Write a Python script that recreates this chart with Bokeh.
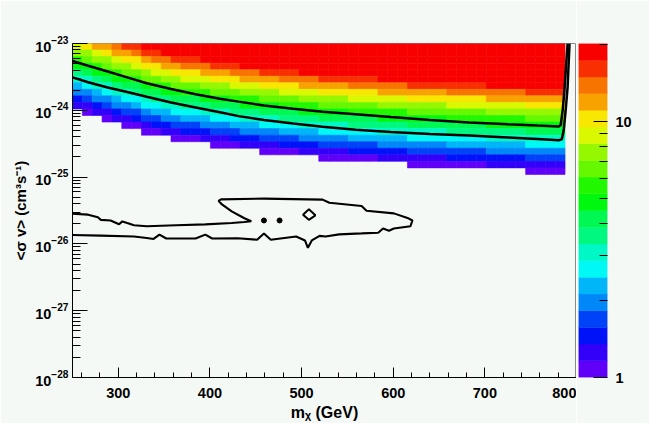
import numpy as np
from bokeh.plotting import figure
from bokeh.models import (FixedTicker, LogTickFormatter, PrintfTickFormatter,
                          LinearColorMapper, ColumnDataSource, Range1d)
from bokeh.layouts import row
from bokeh.embed import file_html
from bokeh.resources import INLINE
from bokeh.transform import transform

BG = "#f5f9f5"
PALETTE = ["#6000f8", "#3200f8", "#0013f8", "#0042f8", "#0087f8", "#00b6f8", "#00f8f5",
           "#00f8c6", "#00f881", "#00f853", "#00f80e", "#21f800", "#66f800", "#95f800",
           "#daf800", "#f8e700", "#f8a200", "#f87400", "#f82f00", "#f80000"]
Z_MIN, Z_MAX = 1.0, 20.2

# histogram binning: 50 mass bins, rows of 0.098 decade starting at 1e-23 (top)
MASS_EDGES = np.linspace(250.0, 787.5, 51)
LOG_SV_TOP_EDGES = np.linspace(-23.0, -23.0 - 0.098 * 20, 21)

# colour-level index of each cell (row 0 = top row), '.' = empty
CH = "0123456789abcdefghij"
GRID = [
    'efgghiijjjjjjjjjjjjjjjjjjjjjjjjjjjjjjjjjjjjjjjjjjj',
    'ddefgghiijjjjjjjjjjjjjjjjjjjjjjjjjjjjjjjjjjjjjjjjj',
    'bcddeffghhiiijjjjjjjjjjjjjjjjjjjjjjjjjjjjjjjjjjjjj',
    'aabcddeffgghhhiiijjjjjjjjjjjjjjjjjjjjjjjjjjjjjjjjj',
    '89aabccdeefffggghhhiiiijjjjjjjjjjjjjjjjjjjjjjjjjjj',
    '7789aabccddeeefffgggghhhhiiiiiijjjjjjjjjjjjjjjjjjj',
    '5677899abbcccdddeeeffffggggghhhhhhiiiiiiiijjjjjjjj',
    '445677899aabbbcccddddeeeeffffffggggggghhhhhhhhiiii',
    '2344566788999aaabbbccccdddddeeeeeeffffffffgggggggg',
    '11234456677888999aaaabbbbccccccdddddddeeeeeeeeffff',
    '.0112334556667778889999aaaaabbbbbbccccccccdddddddd',
    '...0112334455566677778888999999aaaaaaabbbbbbbbcccc',
    '.....0012233344455566667777788888899999999aaaaaaaa',
    '.......0011222333444455556666667777777888888889999',
    '..........0001112223333444445555556666666677777777',
    '..............000111122223333334444444555555556666',
    '...................0000111112222223333333344444444',
    '.........................0000001111111222222223333',
    '..................................0000000011111111',
    '..............................................0000',
]

UPPER_MASS = [250.0, 267.0, 288.4, 309.7, 331.0, 357.6, 384.3, 410.9, 431.2, 458.9, 490.8, 522.8,
              559.0, 597.4, 640.0, 682.6, 725.3, 757.2, 780.7, 782.8, 784.9, 787.1, 789.2, 790.3]
UPPER_LOG = [-23.261, -23.333, -23.420, -23.507, -23.594, -23.681, -23.761, -23.826, -23.870, -23.928,
             -23.978, -24.022, -24.058, -24.101, -24.145, -24.181, -24.210, -24.229, -24.242, -24.220,
             -24.000, -23.650, -23.220, -23.000]
LOWER_MASS = [250.0, 267.0, 288.4, 309.7, 331.0, 357.6, 384.3, 410.9, 431.2, 458.9, 490.8, 522.8,
              559.0, 597.4, 640.0, 682.6, 725.3, 757.2, 780.7, 783.9, 786.0, 788.1, 790.3, 792.4]
LOWER_LOG = [-23.507, -23.580, -23.659, -23.725, -23.797, -23.884, -23.957, -24.029, -24.087, -24.145,
             -24.196, -24.246, -24.290, -24.326, -24.355, -24.377, -24.406, -24.428, -24.449, -24.435,
             -24.304, -24.014, -23.652, -23.000]

CLOSED_MASS = [250.0, 267.05, 277.71, 280.91, 291.57, 300.84, 304.36, 309.69, 317.15, 331.01,
               362.98, 394.96, 423.74, 437.60, 445.06, 437.60, 423.74, 413.08, 409.35, 412.02,
               458.91, 522.87, 530.33, 565.50, 570.83, 600.68, 615.60, 620.93, 618.80, 600.68,
               595.35, 588.95, 583.62, 565.50, 540.99, 526.07, 519.67, 511.14, 506.88, 503.68,
               494.09, 466.38, 458.91, 451.45, 430.14, 402.42, 394.96, 384.30, 352.33, 344.86,
               338.47, 331.01, 317.15, 280.91, 250.0]
CLOSED_LOG = [-25.548, -25.562, -25.601, -25.640, -25.649, -25.707, -25.663, -25.688, -25.721, -25.736,
              -25.721, -25.707, -25.688, -25.673, -25.659, -25.616, -25.514, -25.409, -25.355, -25.334,
              -25.322, -25.337, -25.384, -25.432, -25.504, -25.543, -25.611, -25.649, -25.736, -25.770,
              -25.803, -25.770, -25.832, -25.843, -25.857, -25.890, -25.880, -25.948, -26.059, -25.948,
              -25.890, -25.938, -25.843, -25.938, -25.915, -25.919, -25.861, -25.919, -25.919, -25.861,
              -25.926, -25.912, -25.890, -25.876, -25.866]
DOT_MASS = [458.91, 475.97]
DOT_LOG = [-25.649, -25.649]
DIAMOND_MASS = [501.55, 507.95, 515.09, 507.95]
DIAMOND_LOG = [-25.562, -25.481, -25.572, -25.640]

X_TICKS = [300, 400, 500, 600, 700, 800]
X_MINOR = list(range(260, 800, 20))
Y_TICKS = [1e-28, 1e-27, 1e-26, 1e-25, 1e-24, 1e-23]
Y_MINOR = [m * 10.0 ** e for e in range(-28, -23) for m in range(2, 10)]
Z_TICKS = [1, 10]
Z_MINOR = [2, 3, 4, 5, 6, 7, 8, 9, 20]
X_TITLE = "m\u1d6a (GeV)"
Y_TITLE = "<\u03c3 v> (cm\u00b3s\u207b\u00b9)"

FONT = "Liberation Sans"

p = figure(width=576, height=423, x_range=Range1d(250, 800), y_range=Range1d(1e-28, 1e-23),
           y_axis_type="log", output_backend="svg", toolbar_location=None,
           min_border_left=72, min_border_right=0, min_border_top=43, min_border_bottom=46,
           background_fill_color=BG, border_fill_color=BG, outline_line_color="#888888")
p.grid.visible = False

left, right, bottom, top, band = [], [], [], [], []
for k, rs in enumerate(GRID):
    for c, ch in enumerate(rs):
        if ch == ".":
            continue
        left.append(MASS_EDGES[c]); right.append(MASS_EDGES[c + 1])
        top.append(10 ** LOG_SV_TOP_EDGES[k]); bottom.append(10 ** LOG_SV_TOP_EDGES[k + 1])
        band.append(CH.index(ch))
mapper = LinearColorMapper(palette=PALETTE, low=0, high=20)
src = ColumnDataSource(dict(left=left, right=right, top=top, bottom=bottom, band=band))
p.quad(left="left", right="right", top="top", bottom="bottom", source=src,
       fill_color=transform("band", mapper), line_color=transform("band", mapper), line_width=0.6)

p.line(UPPER_MASS, [10 ** v for v in UPPER_LOG], line_color="black", line_width=2.5)
p.line(LOWER_MASS, [10 ** v for v in LOWER_LOG], line_color="black", line_width=2.5)
p.line(CLOSED_MASS, [10 ** v for v in CLOSED_LOG], line_color="black", line_width=2.1)
p.patch(DIAMOND_MASS, [10 ** v for v in DIAMOND_LOG], fill_color=None, line_color="black", line_width=2)
p.scatter(DOT_MASS, [10 ** v for v in DOT_LOG], size=5, color="black")

for ax in (p.xaxis[0], p.yaxis[0]):
    ax.axis_line_color = "black"
    ax.major_tick_line_color = "black"
    ax.minor_tick_line_color = "black"
    ax.major_tick_out = 0
    ax.minor_tick_out = 0
    ax.major_label_text_font = FONT
    ax.major_label_text_font_style = "bold"
    ax.major_label_text_font_size = "14.5px"
    ax.major_label_text_color = "black"
    ax.axis_label_text_font = FONT
    ax.axis_label_text_font_style = "bold"
    ax.axis_label_text_color = "black"
p.xaxis.ticker = FixedTicker(ticks=X_TICKS, minor_ticks=X_MINOR)
p.xaxis.major_tick_in = 10
p.xaxis.minor_tick_in = 5
p.xaxis.major_label_standoff = 10
p.xaxis.axis_label = X_TITLE
p.xaxis.axis_label_text_font_size = "16px"
p.xaxis.axis_label_standoff = 3
p.yaxis.ticker = FixedTicker(ticks=Y_TICKS, minor_ticks=Y_MINOR)
p.yaxis.formatter = LogTickFormatter()
p.yaxis.major_tick_in = 15
p.yaxis.minor_tick_in = 8
p.yaxis.major_label_standoff = 4
p.yaxis.axis_label = Y_TITLE
p.yaxis.axis_label_text_font_size = "15px"
p.yaxis.axis_label_standoff = 3

cb = figure(width=73, height=423, x_range=Range1d(0, 1), y_range=Range1d(Z_MIN, Z_MAX),
            y_axis_type="log", y_axis_location="right", x_axis_location=None,
            output_backend="svg", toolbar_location=None,
            min_border_left=2, min_border_right=42, min_border_top=43, min_border_bottom=46,
            background_fill_color=BG, border_fill_color=BG, outline_line_color=None)
cb.grid.visible = False
lv = 10 ** np.linspace(0, np.log10(Z_MAX), 21)
cb.quad(left=0, right=1, bottom=lv[:-1], top=lv[1:], fill_color=PALETTE, line_color=PALETTE, line_width=0.5)
ya = cb.yaxis[0]
ya.ticker = FixedTicker(ticks=Z_TICKS, minor_ticks=Z_MINOR)
ya.formatter = PrintfTickFormatter(format="%d")
ya.axis_line_color = None
ya.major_tick_in = 14
ya.major_tick_out = 0
ya.minor_tick_in = 8
ya.minor_tick_out = 0
ya.major_tick_line_color = "black"
ya.minor_tick_line_color = "black"
ya.major_label_text_font = FONT
ya.major_label_text_font_style = "bold"
ya.major_label_text_font_size = "14.5px"
ya.major_label_text_color = "black"
ya.major_label_standoff = 8

layout = row(p, cb)
open("out.html", "w").write(file_html(layout, INLINE))
